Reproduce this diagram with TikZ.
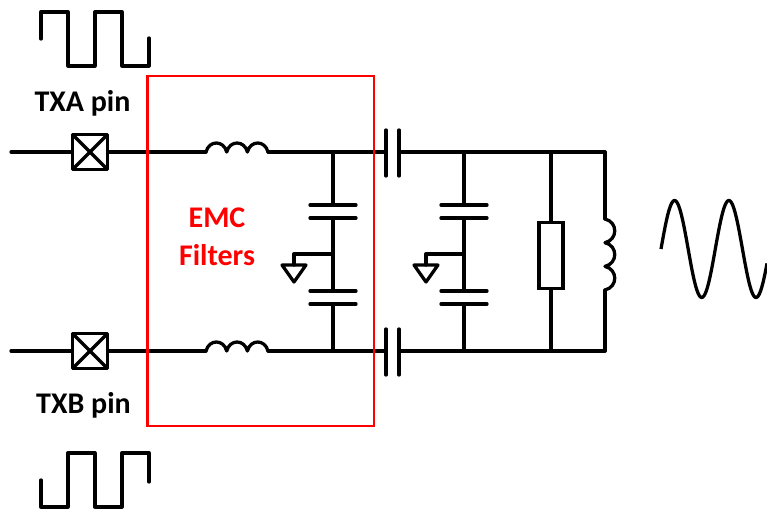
\documentclass[tikz,border=0pt]{standalone}
\usepackage{fontspec}
\setmainfont{Carlito}
\usetikzlibrary{calc}
\usetikzlibrary{positioning}
\usetikzlibrary{shapes.misc}
\tikzset{
  wire/.style = {line width=2.45pt, line join=round, line cap=round},
  pinbox/.style = {draw, line width=2.45pt, minimum size=24pt, inner sep=0pt, cross out},
  pinlabel/.style = {font=\bfseries\fontsize{22.5}{27}\selectfont},
  redlabel/.style = {font=\bfseries\fontsize{22.5}{28.5}\selectfont, text=red, align=center},
}
\begin{document}
\begin{tikzpicture}[x=0.75pt,y=-0.75pt]
\useasboundingbox (0,0) rectangle (767,509);
% square waves
\draw [wire] (41,39) -- (41,12) -- (68,12) -- (68,66) -- (95,66) -- (95,12) -- (122,12) -- (122,66) -- (149,66) -- (149,38);
\draw [wire] (41,480) -- (41,507) -- (68,507) -- (68,453) -- (95,453) -- (95,507) -- (122,507) -- (122,453) -- (149,453) -- (149,482);
\node [pinlabel] (txa) at (82.5,103) {TXA pin};
\node [pinlabel] (txb) at (83.5,405) {TXB pin};
% pins
\node [pinbox] (pina) at (90,152) {};
\node [pinbox] (pinb) at (90,351) {};
\draw [wire] (pina.north west) rectangle (pina.south east);
\draw [wire] (pinb.north west) rectangle (pinb.south east);
\coordinate (ina) at (11,152);
\coordinate (inb) at (11,351);
\coordinate (la) at (206,152);
\coordinate (lb) at (206,351);
\coordinate (lae) at (268,152);
\coordinate (lbe) at (268,351);
\coordinate (ja) at (333,152);
\coordinate (jb) at (333,351);
\coordinate (ka) at (464,152);
\coordinate (kb) at (464,351);
\coordinate (ra) at (551,152);
\coordinate (rb) at (551,351);
\coordinate (ea) at (605,152);
\coordinate (eb) at (605,351);
\coordinate (ca) at (386,152);
\coordinate (cb) at (386,351);
\coordinate (da) at (399,152);
\coordinate (db) at (399,351);
\draw [wire] (ina) -- (pina);
\draw [wire] (inb) -- (pinb);
\draw [wire] (pina) -- (la);
\draw [wire] (pinb) -- (lb);
% series inductors
\foreach \s in {a,b} {
  \draw [wire] (l\s) .. controls +(3,-12) and +(-3,-12) .. ++(20.7,0)
    .. controls +(3,-12) and +(-3,-12) .. ++(20.7,0)
    .. controls +(3,-12) and +(-3,-12) .. ++(20.6,0);
  \draw [wire] (l\s e) -- (c\s);
  \draw [wire] (c\s) ++(0,-22) -- ++(0,46);
  \draw [wire] (d\s) ++(0,-22) -- ++(0,46);
  \draw [wire] (d\s) -- (e\s);
}
% shunt capacitors and ground
\foreach \j/\k/\g in {j/333/294,k/464/426} {
  \draw [wire] (\j a) -- (\k,205);
  \draw [wire] (\k,218) -- (\k,291);
  \draw [wire] (\k,304) -- (\j b);
  \draw [wire] (\k-23,205) -- (\k+23,205);
  \draw [wire] (\k-23,218) -- (\k+23,218);
  \draw [wire] (\k-23,291) -- (\k+23,291);
  \draw [wire] (\k-23,304) -- (\k+23,304);
  \draw [wire] (\k,254) -- (\g,254) -- (\g,265);
  \draw [wire] (\g-12,265) -- (\g+12,265) -- (\g,282) -- cycle;
}
% resistor
\node [draw, line width=2.45pt, minimum width=18pt, minimum height=50pt, inner sep=0pt] (res) at (551,255.5) {};
\draw [wire] (ra) -- (res);
\draw [wire] (res) -- (rb);
% coil
\coordinate (coila) at (605,219);
\coordinate (coilb) at (605,290);
\draw [wire] (ea) -- (coila);
\draw [wire] (coilb) -- (eb);
\draw [wire] (coila) .. controls +(13,3) and +(13,-3) .. ++(0,23.7)
  .. controls +(13,3) and +(13,-3) .. ++(0,23.7)
  .. controls +(13,3) and +(13,-3) .. ++(0,23.6);
% sine
\draw [wire, line cap=butt] plot [smooth, domain=661:767, samples=120] (\x,{249-48.5*sin(deg((\x-661)*6.2832/54.3))});
% filter box
\node [draw=red, line width=2pt, minimum width=170pt, minimum height=262.5pt, inner sep=0pt] (emc) at (260.5,251) {};
\node [redlabel] (emctext) at (217,237) {EMC\\Filters};
\end{tikzpicture}
\end{document}
